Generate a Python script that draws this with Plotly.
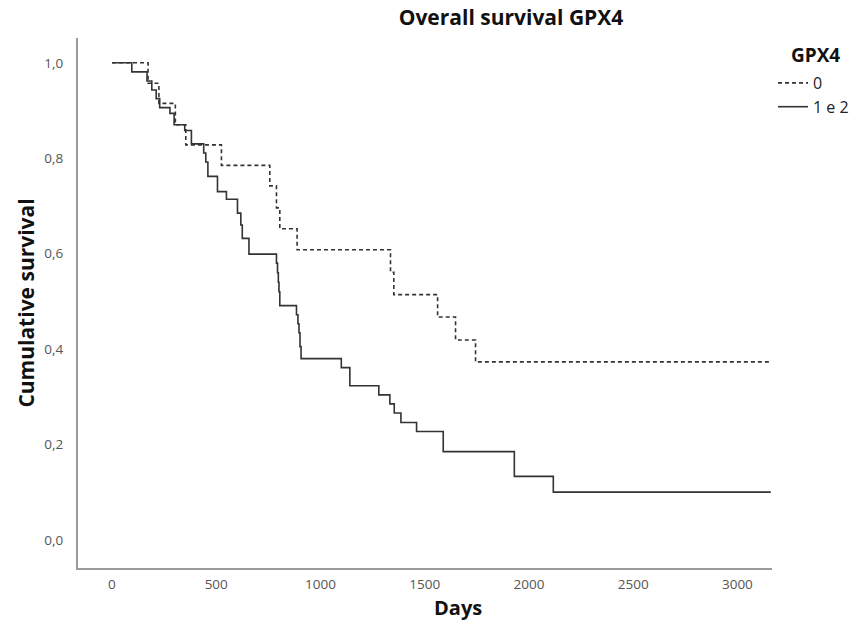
import plotly.graph_objects as go

# Kaplan-Meier step data (days, cumulative survival)
days_g0 = [0, 173, 225, 304, 354, 525, 757, 789, 805, 888, 1336, 1352, 1562, 1648, 1744, 3160]
surv_g0 = [1.0, 0.957, 0.915, 0.870, 0.828, 0.785, 0.742, 0.696, 0.652, 0.608, 0.561, 0.514,
           0.467, 0.419, 0.373, 0.373]

days_g12 = [0, 95, 168, 191, 212, 229, 278, 298, 349, 381, 440, 450, 460, 506, 549, 602,
            618, 625, 657, 789, 794, 798, 801, 805, 885, 892, 897, 902, 907, 1100, 1141,
            1280, 1333, 1354, 1386, 1461, 1589, 1930, 2117, 3160]
surv_g12 = [1.0, 0.981, 0.962, 0.943, 0.925, 0.906, 0.894, 0.870, 0.858, 0.830, 0.811, 0.792,
            0.762, 0.730, 0.714, 0.685, 0.660, 0.632, 0.599, 0.580, 0.560, 0.540, 0.520, 0.491,
            0.472, 0.453, 0.434, 0.405, 0.380, 0.361, 0.323, 0.304, 0.285, 0.266, 0.246, 0.227,
            0.185, 0.133, 0.100, 0.100]

x_tickvals = [0, 500, 1000, 1500, 2000, 2500, 3000]
x_ticktext = ["0", "500", "1000", "1500", "2000", "2500", "3000"]
y_tickvals = [0.0, 0.2, 0.4, 0.6, 0.8, 1.0]
y_ticktext = ["0,0", "0,2", "0,4", "0,6", "0,8", "1,0"]

TITLE_FONT = "Open Sans"
TICK_FONT = "Open Sans"

# plot-area geometry (pixels) used to place paper-referenced items
L, R, T, B = 78, 85, 38, 56
PW, PH = 857 - L - R, 624 - T - B


def px_x(px):
    return (px - L) / PW


def px_y(py):
    return (624 - B - py) / PH


fig = go.Figure()
fig.add_trace(go.Scatter(x=days_g0, y=surv_g0, mode="lines", name="0",
                         line=dict(shape="hv", color="#333333", width=1.6, dash="4px,3px")))
fig.add_trace(go.Scatter(x=days_g12, y=surv_g12, mode="lines", name="1 e 2",
                         line=dict(shape="hv", color="#333333", width=1.6)))

fig.update_layout(
    width=857, height=624,
    margin=dict(l=L, r=R, t=T, b=B, autoexpand=False),
    paper_bgcolor="white", plot_bgcolor="white",
    font=dict(family=TITLE_FONT, color="#222"),
    title=dict(text="<b>Overall survival GPX4</b>", x=511 / 857, xanchor="center",
               y=1 - 18 / 624, yanchor="middle", font=dict(size=21, color="#111", family=TITLE_FONT)),
    legend=dict(x=px_x(773), xanchor="left", y=px_y(66), yanchor="top",
                font=dict(size=16, color="#222", family=TICK_FONT), itemwidth=30,
                tracegroupgap=0, bgcolor="rgba(0,0,0,0)"),
    annotations=[
        dict(text="<b>GPX4</b>", xref="paper", yref="paper",
             x=px_x(815), y=px_y(55), xanchor="center", yanchor="middle",
             showarrow=False, font=dict(size=19, color="#111", family=TITLE_FONT)),
        dict(text="<b>Days</b>", xref="paper", yref="paper",
             x=px_x(457.5), y=px_y(607), xanchor="center", yanchor="middle",
             showarrow=False, font=dict(size=20, color="#111", family=TITLE_FONT)),
    ],
    xaxis=dict(range=[-163, 3166], tickvals=x_tickvals, ticktext=x_ticktext,
               showgrid=False, zeroline=False, showline=True, linecolor="#9a9a9a", linewidth=2,
               ticks="outside", ticklen=3, tickcolor="rgba(0,0,0,0)",
               tickfont=dict(size=13.5, color="#555", family=TICK_FONT)),
    yaxis=dict(range=[-0.059, 1.052], tickvals=y_tickvals, ticktext=y_ticktext,
               showgrid=False, zeroline=False, showline=True, linecolor="#9a9a9a", linewidth=2,
               ticks="outside", ticklen=10, tickcolor="rgba(0,0,0,0)",
               tickfont=dict(size=13.5, color="#555", family=TICK_FONT),
               title=dict(text="<b>Cumulative survival</b>",
                          font=dict(size=21, color="#111", family=TITLE_FONT), standoff=4)),
)

fig.write_html("out.html")
